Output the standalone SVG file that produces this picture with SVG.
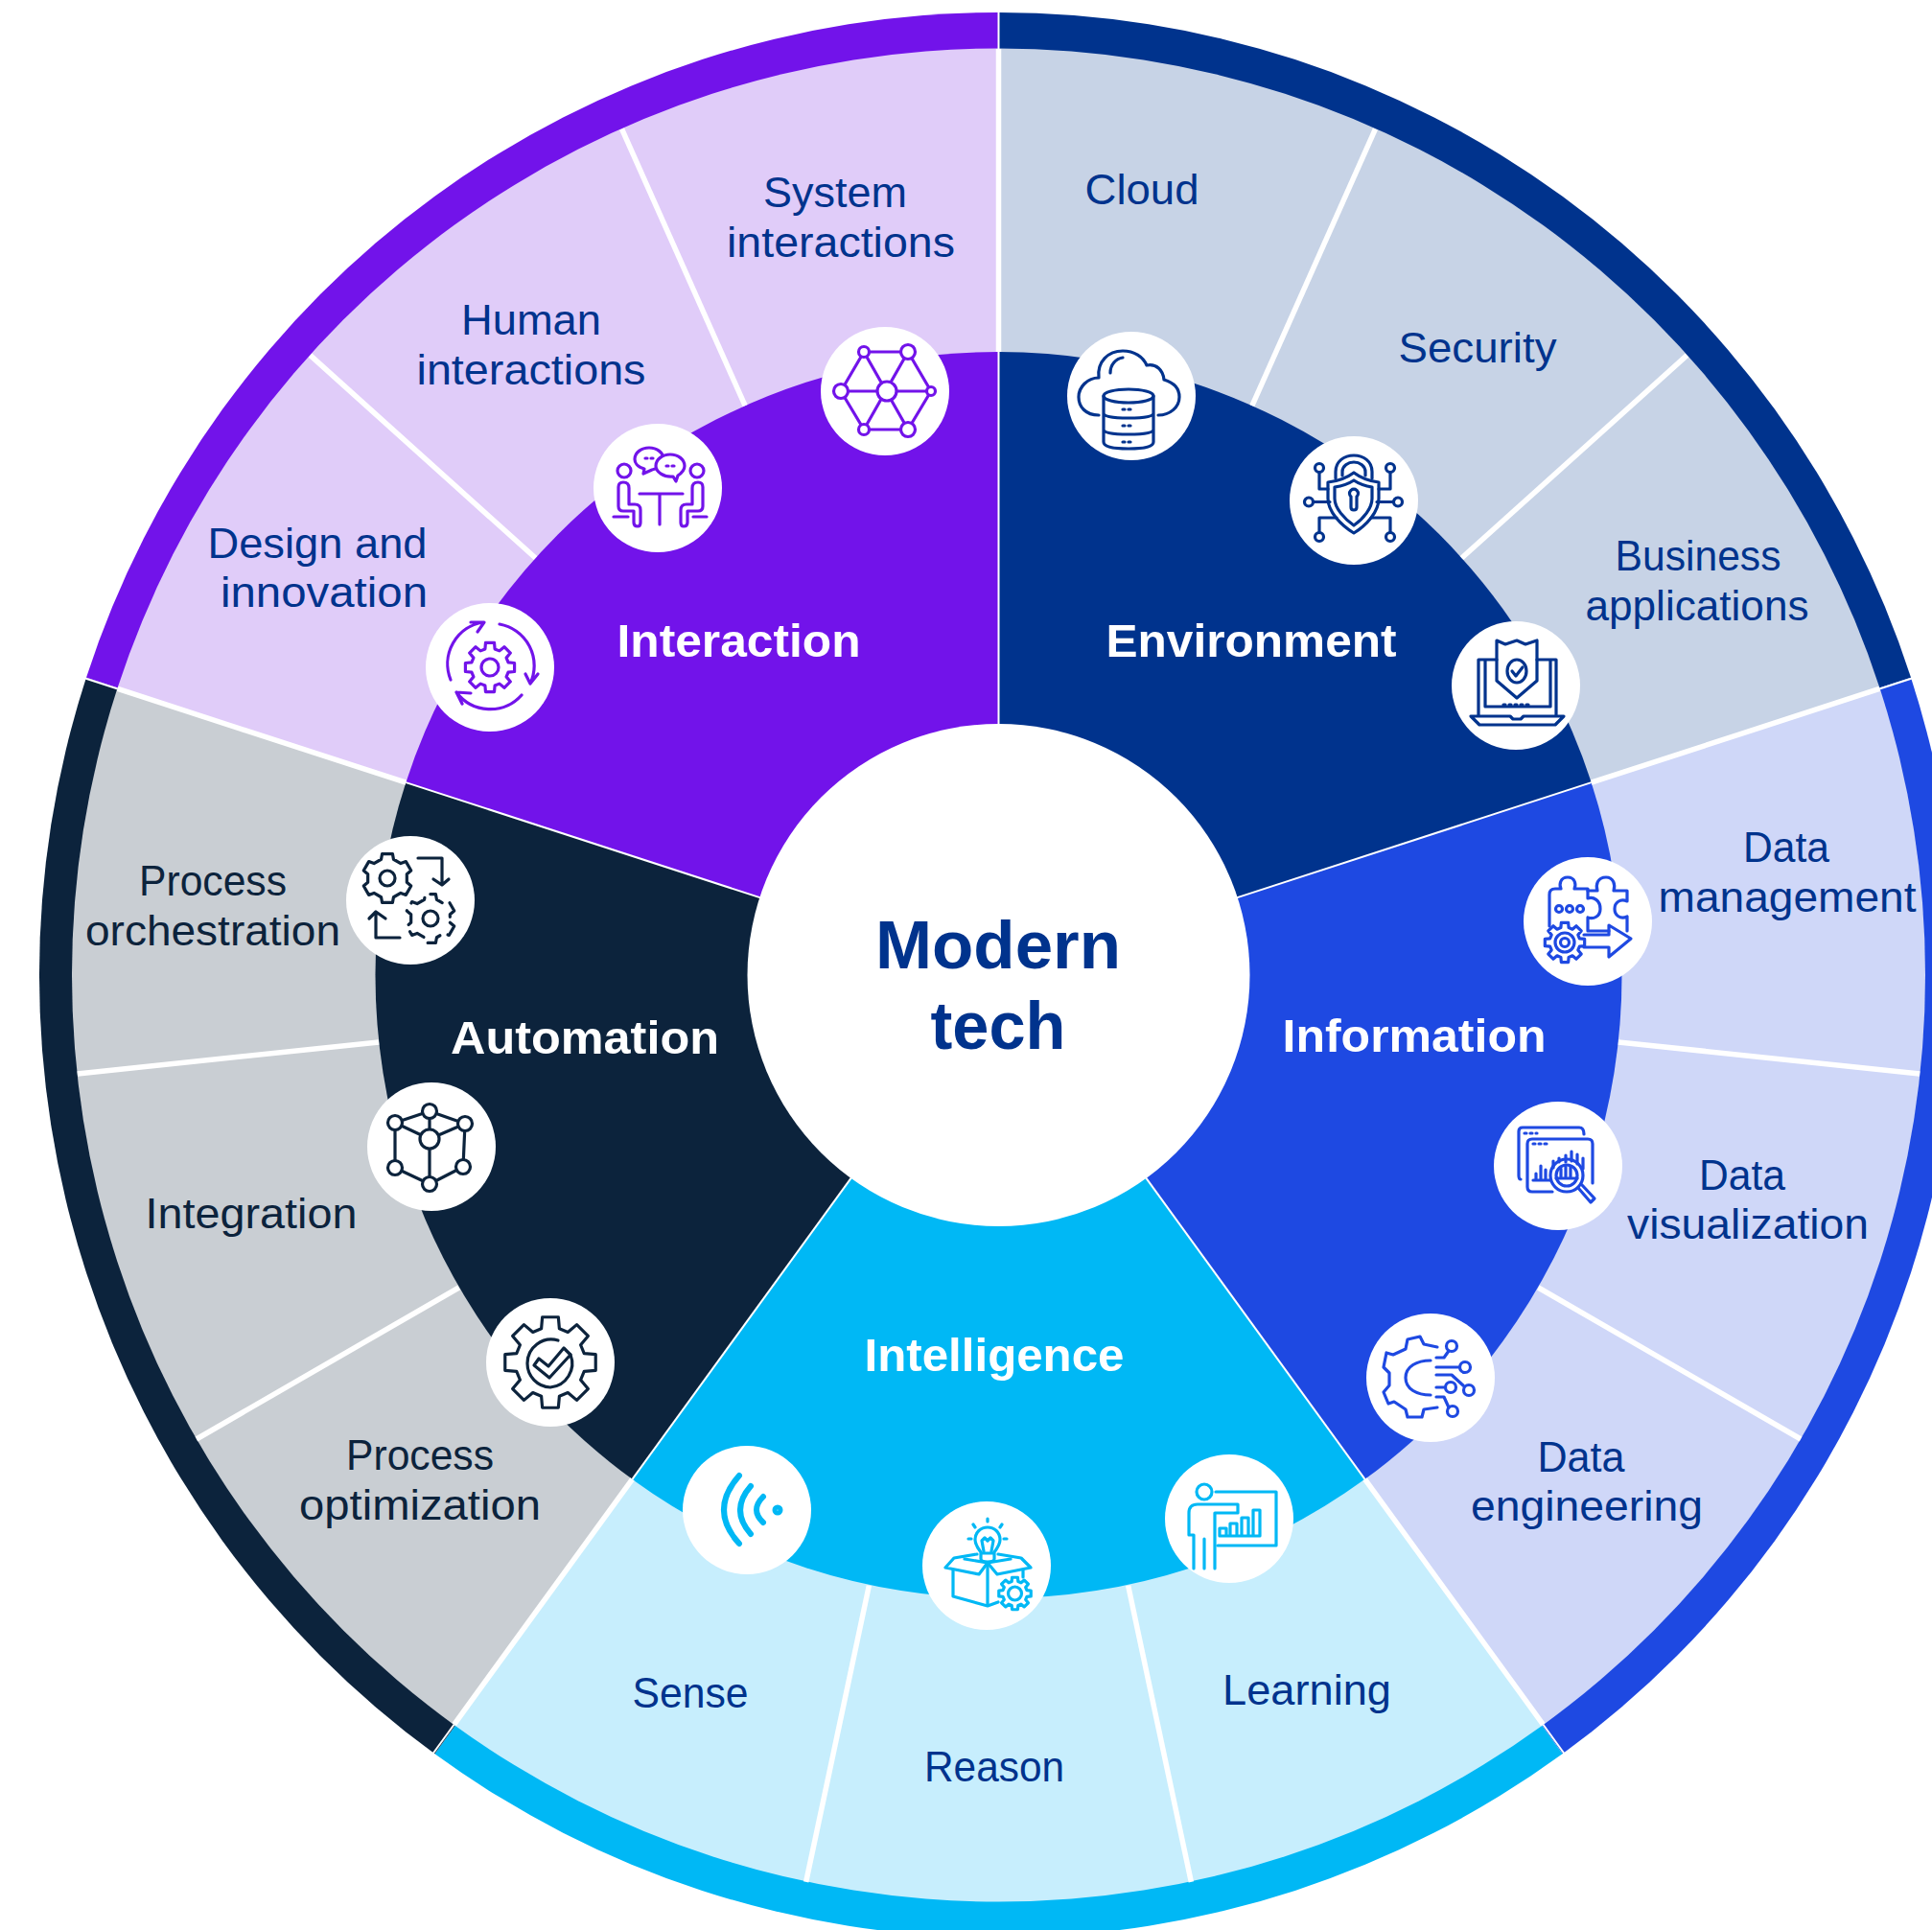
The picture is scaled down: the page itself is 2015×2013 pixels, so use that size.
<svg xmlns="http://www.w3.org/2000/svg" width="2015" height="2013" viewBox="0 0 2015 2013">
<style>
text{font-family:"Liberation Sans",Arial,sans-serif;text-anchor:middle}
.l{font-size:44px;fill:#00338D}
.d{fill:#0C233C}
.h{font-size:49px;font-weight:700;fill:#fff}
.c{font-size:70px;font-weight:700;fill:#00338D}
.disc{fill:#fff;stroke:none}
.ic{fill:none;stroke-width:3.2;stroke-linecap:round;stroke-linejoin:round}
.ns{vector-effect:non-scaling-stroke}
.w{stroke:#fff;fill:none}
</style>
<defs>
<path id="s1" d="M0 0L0 -1004A1004 1004 0 0 1 954.9 -310.3Z"/>
<path id="s2" d="M0 0L0 -966.5A966.5 966.5 0 0 1 919.2 -298.7Z"/>
<path id="s3" d="M0 0L0 -650A650 650 0 0 1 618.2 -200.9Z"/>
<g id="spoke">
<line x1="0" y1="-261" x2="0" y2="-650" stroke-width="2"/>
<line x1="0" y1="-650" x2="0" y2="-966" stroke-width="5.5"/>
<line x1="0" y1="-966" x2="0" y2="-1004" stroke-width="2"/>
</g>
<line id="div" x1="0" y1="-650" x2="0" y2="-966" stroke-width="5.5"/>
<path id="gear8" class="ns" d="M36.7 -9.8L49.2 -8.7L49.2 8.7L36.7 9.8L32.9 19L41 28.7L28.7 41L19 32.9L9.8 36.7L8.7 49.2L-8.7 49.2L-9.8 36.7L-19 32.9L-28.7 41L-41 28.7L-32.9 19L-36.7 9.8L-49.2 8.7L-49.2 -8.7L-36.7 -9.8L-32.9 -19L-41 -28.7L-28.7 -41L-19 -32.9L-9.8 -36.7L-8.7 -49.2L8.7 -49.2L9.8 -36.7L19 -32.9L28.7 -41L41 -28.7L32.9 -19Z"/>
<path id="gear6" class="ns" d="M39.1 8.3L47.6 15.5L37.2 33.5L26.8 29.7L12.4 38L10.4 48.9L-10.4 48.9L-12.4 38L-26.8 29.7L-37.2 33.5L-47.6 15.5L-39.1 8.3L-39.1 -8.3L-47.6 -15.5L-37.2 -33.5L-26.8 -29.7L-12.4 -38L-10.4 -48.9L10.4 -48.9L12.4 -38L26.8 -29.7L37.2 -33.5L47.6 -15.5L39.1 -8.3Z"/>
</defs>

<g id="sectors">
<g transform="translate(1041.5 1017) scale(.9965 1)">
<use href="#s1" fill="#00338D"/>
<use href="#s1" transform="rotate(72)" fill="#1E49E2"/>
<use href="#s1" transform="rotate(144)" fill="#00B8F5"/>
<use href="#s1" transform="rotate(216)" fill="#0C233C"/>
<use href="#s1" transform="rotate(288)" fill="#7213EA"/>
</g>
<g transform="translate(1041.5 1017)">
<use href="#s2" fill="#C7D3E6"/><use href="#s3" fill="#00338D"/>
<g transform="rotate(72)"><use href="#s2" fill="#CFD7F8"/><use href="#s3" fill="#1E49E2"/></g>
<g transform="rotate(144)"><use href="#s2" fill="#C7EEFD"/><use href="#s3" fill="#00B8F5"/></g>
<g transform="rotate(216)"><use href="#s2" fill="#C9CED3"/><use href="#s3" fill="#0C233C"/></g>
<g transform="rotate(288)"><use href="#s2" fill="#E0CCF9"/><use href="#s3" fill="#7213EA"/></g>
</g>
</g>

<g id="connectors" transform="translate(1041.5 1017)" class="w">
<use href="#spoke"/>
<use href="#spoke" transform="rotate(72)"/>
<use href="#spoke" transform="rotate(144)"/>
<use href="#spoke" transform="rotate(216)"/>
<use href="#spoke" transform="rotate(288)"/>
<use href="#div" transform="rotate(24)"/><use href="#div" transform="rotate(48)"/>
<use href="#div" transform="translate(0 2) rotate(96)"/><use href="#div" transform="translate(0 1) rotate(120)"/>
<use href="#div" transform="translate(0 1) rotate(168)"/><use href="#div" transform="translate(0 1) rotate(192)"/>
<use href="#div" transform="translate(0 1) rotate(240)"/><use href="#div" transform="translate(0 2) rotate(264)"/>
<use href="#div" transform="rotate(312)"/><use href="#div" transform="rotate(336)"/>
</g>

<g id="core">
<circle cx="1041.5" cy="1017" r="262" fill="#fff"/>
<text class="c" x="1041" y="1010" textLength="256" lengthAdjust="spacingAndGlyphs">Modern</text>
<text class="c" x="1041" y="1094" textLength="141" lengthAdjust="spacingAndGlyphs">tech</text>
</g>

<g id="environment"><text class="h" x="1305" y="685" textLength="303" lengthAdjust="spacingAndGlyphs">Environment</text></g>
<g id="information"><text class="h" x="1475" y="1097" textLength="275" lengthAdjust="spacingAndGlyphs">Information</text></g>
<g id="intelligence"><text class="h" x="1037" y="1430" textLength="271" lengthAdjust="spacingAndGlyphs">Intelligence</text></g>
<g id="automation"><text class="h" x="610" y="1099" textLength="280" lengthAdjust="spacingAndGlyphs">Automation</text></g>
<g id="interaction"><text class="h" x="770.500" y="685" textLength="254" lengthAdjust="spacingAndGlyphs">Interaction</text></g>

<!-- ENVIRONMENT -->
<g id="cloud">
<text class="l" x="1191" y="213" textLength="119" lengthAdjust="spacingAndGlyphs">Cloud</text>
<circle class="disc" cx="1180" cy="413" r="67"/>
<g class="ic" stroke="#00338D" transform="translate(1180 413)">
<path d="M-34 20C-48 20 -55 11 -55 1C-55 -9 -46 -19 -34 -19C-36 -36 -24 -47 -9 -47C3 -47 12 -41 16 -32C26 -34 33 -27 34 -17C44 -14 50 -8 50 1C50 12 40 20 28 20"/>
<path d="M-22 -24C-22 -33 -16 -39 -9 -40"/>
<ellipse cx="-3" cy="0" rx="26" ry="7"/>
<path d="M-29 0V48Q-29 55 -3 55Q23 55 23 48V0M-29 18Q-29 23 -3 23Q23 23 23 18M-29 35Q-29 40 -3 40Q23 40 23 35"/>
<path d="M-9 14H3M-9 31H3M-9 48H3" stroke-dasharray="2 4"/>
</g>
</g>
<g id="security">
<text class="l" x="1541" y="378" textLength="165" lengthAdjust="spacingAndGlyphs">Security</text>
<circle class="disc" cx="1412" cy="522" r="67"/>
<g class="ic" stroke="#00338D" transform="translate(1413 522)">
<path d="M-1 -29C-9 -23 -19 -20 -28 -19L-28 -2C-28 12 -14 26 -1 34C12 26 25 12 25 -2L25 -19C16 -20 7 -23 -1 -29Z"/>
<path d="M-1 -21C-7 -17 -14 -15 -21 -14L-21 -2C-21 8 -11 19 -1 26C9 19 18 8 18 -2L18 -14C11 -15 5 -17 -1 -21Z"/>
<path d="M-20 -23V-30C-20 -41 -11 -47 -1 -47C9 -47 18 -41 18 -30V-23M-13 -26V-30C-13 -36 -7 -40 -1 -40C5 -40 11 -36 11 -30V-26"/>
<path d="M-4 -4A4.500 4.500 0 1 1 2 -4L2 7Q2 10 -1 10Q-4 10 -4 7Z"/>
<circle cx="-37" cy="-34" r="4.500"/><circle cx="37" cy="-34" r="4.500"/><circle cx="-48" cy="1.500" r="4.500"/><circle cx="45" cy="1.500" r="4.500"/><circle cx="-37" cy="38" r="4.500"/><circle cx="37" cy="38" r="4.500"/>
<path d="M-37 -29V-12H-28M37 -29V-12H25M-43 1.500H-26M40 1.500H23M-37 33V18H-19M37 33V18H17"/>
</g>
</g>
<g id="business-applications">
<text class="l" x="1771" y="595" textLength="173" lengthAdjust="spacingAndGlyphs">Business</text>
<text class="l" x="1770" y="647" textLength="233" lengthAdjust="spacingAndGlyphs">applications</text>
<circle class="disc" cx="1581" cy="715" r="67"/>
<g class="ic" stroke="#00338D" transform="translate(1581 715)">
<path d="M-20 -27H-39V31M22 -27H42V31M-26 -27H-32V22H36V-27H28"/>
<path d="M-47 32H-6L-3 35H5L8 32H50L41 41H-38Z"/>
<path d="M-20 -47L-11 -43L1 -47L10 -43L22 -47V-5L1 13L-20 -5Z"/>
<ellipse cx="1" cy="-15" rx="10" ry="12"/>
<path d="M-4 -15L0 -10L7 -19"/>
<path d="M-13 20H17" stroke-dasharray="2 4"/>
</g>
</g>

<!-- INFORMATION -->
<g id="data-management">
<text class="l" x="1863" y="899" textLength="90" lengthAdjust="spacingAndGlyphs">Data</text>
<text class="l" x="1864" y="951" textLength="269" lengthAdjust="spacingAndGlyphs">management</text>
<circle class="disc" cx="1656" cy="961" r="67"/>
<g class="ic" stroke="#1E49E2" transform="translate(1656 961)">
<path d="M-40 5V-28Q-40 -34 -34 -34H-28C-30 -38 -29 -46 -21 -46C-13 -46 -12 -38 -14 -34H0V-24C6 -26 13 -22 13 -13C13 -5 6 -2 0 -4V10H22"/>
<path d="M0 -32H10C8 -38 10 -46 19 -46C27 -46 29 -38 27 -32H41V-21C34 -24 28 -20 28 -13C28 -6 34 -2 41 -5V10"/>
<path d="M-4 14H22V4L45 18L22 37V27H-4"/>
<circle cx="-30" cy="-13" r="3.500"/><circle cx="-19" cy="-13" r="3.500"/><circle cx="-8" cy="-13" r="3.500"/>
<use href="#gear8" transform="translate(-24 22) scale(.42)"/>
<circle cx="-24" cy="22" r="10"/><circle cx="-24" cy="22" r="4.500"/>
</g>
</g>
<g id="data-visualization">
<text class="l" x="1817" y="1241" textLength="90" lengthAdjust="spacingAndGlyphs">Data</text>
<text class="l" x="1823" y="1292" textLength="252" lengthAdjust="spacingAndGlyphs">visualization</text>
<circle class="disc" cx="1625" cy="1216" r="67"/>
<g class="ic" stroke="#1E49E2" transform="translate(1625 1216)">
<path d="M-39 14Q-41 14 -41 10V-36Q-41 -40 -37 -40H22Q27 -40 27 -33"/>
<path d="M-6 27H-27Q-32 27 -32 22V-23Q-32 -28 -27 -28H31Q36 -28 36 -23V18"/>
<path d="M-35 -34H-22M-26 -23H-12" stroke-dasharray="2 4"/>
<path d="M-26 15H-8M-23 14V8M-18 14V0M-13 14V4M-5 -5V2M1 -8V-4M8 -11V-4M14 -15V-5M20 -12V-2M26 -8V3"/>
<ellipse cx="9" cy="10" rx="17" ry="17"/><ellipse cx="9" cy="10" rx="11" ry="11"/>
<path d="M3 3V11M8 1V11M13 1V11M-2 13H20"/>
<path d="M21 23L34 38L38 34L25 20"/>
</g>
</g>
<g id="data-engineering">
<text class="l" x="1649" y="1535" textLength="91" lengthAdjust="spacingAndGlyphs">Data</text>
<text class="l" x="1655" y="1586" textLength="242" lengthAdjust="spacingAndGlyphs">engineering</text>
<circle class="disc" cx="1492" cy="1437" r="67"/>
<g class="ic" stroke="#1E49E2" transform="translate(1492 1437)">
<path d="M7 -32L-7 -35L-11 -43L-24 -40L-26 -30L-39 -24L-46 -26L-49 -11L-43 -5L-43 8L-49 15L-44 27L-38 25L-26 33L-24 41L-9 41L-7 33L7 31"/>
<path d="M0 -18C-14 -18 -26 -12 -26 0C-26 12 -14 18 0 18"/>
<circle cx="22" cy="-33" r="5.500"/><circle cx="36" cy="-11" r="5.500"/><circle cx="40" cy="13" r="5.500"/><circle cx="21" cy="10" r="5.500"/><circle cx="23" cy="35" r="5.500"/>
<path d="M6 -21H14L19 -28M6 -11H30M6 -3H22L34 8M6 10H15M6 20H14L19 31"/>
</g>
</g>

<!-- INTELLIGENCE -->
<g id="learning">
<text class="l" x="1363" y="1778" textLength="176" lengthAdjust="spacingAndGlyphs">Learning</text>
<circle class="disc" cx="1282" cy="1584" r="67"/>
<g class="ic" stroke="#00B8F5" transform="translate(1282 1584)">
<ellipse cx="-26" cy="-28" rx="8" ry="8"/>
<path d="M-14 -28H49V28H-12"/>
<path d="M-37 52V17H-42V-6Q-42 -15 -33 -15H9V-6H-15V52M-26 21V52"/>
<path d="M-10 18V10H-3V18M1 18V5H8V18M13 18V-1H20V18M25 18V-9H32V18M-10 18H32"/>
</g>
</g>
<g id="reason">
<text class="l" x="1037" y="1858" textLength="146" lengthAdjust="spacingAndGlyphs">Reason</text>
<circle class="disc" cx="1029" cy="1633" r="67"/>
<g class="ic" stroke="#00B8F5" transform="translate(1029 1633)">
<path d="M-6 -7V-14C-9 -18 -12 -22 -12 -27C-12 -35 -6 -40 1 -40C8 -40 14 -35 14 -27C14 -22 11 -18 8 -14V-7Q8 -4 1 -4Q-6 -4 -6 -7ZM-6 -13H8"/>
<path d="M-3 -15L-5 -26L-2 -29L1 -26L4 -29L7 -26L5 -15"/>
<path d="M1 -46V-49M-12 -40L-14 -43M14 -40L16 -43M-16 -28H-19M18 -28H21"/>
<path d="M-10 -12L-34 -8L-43 2L-8 9L1 -3L11 9L46 2L36 -8L12 -12"/>
<path d="M-23 -7L1 -3L25 -7"/>
<path d="M-35 5V32L1 42L12 38M1 -3V42M38 5V12"/>
<use href="#gear8" transform="translate(29.500 29) scale(.34)"/>
<circle cx="29.500" cy="29" r="7"/>
</g>
</g>
<g id="sense">
<text class="l" x="720" y="1781" textLength="121" lengthAdjust="spacingAndGlyphs">Sense</text>
<circle class="disc" cx="779" cy="1575" r="67"/>
<g class="ic" stroke="#00B8F5" transform="translate(779 1575)" style="stroke-width:6">
<path d="M-8 -36Q-40 0 -8 35"/><path d="M4 -25Q-18 0 4 25"/><path d="M17 -14Q3 0 17 13"/>
<circle cx="32" cy="0" r="2.500"/>
</g>
</g>

<!-- AUTOMATION -->
<g id="process-optimization">
<text class="l d" x="438" y="1533" textLength="154" lengthAdjust="spacingAndGlyphs">Process</text>
<text class="l d" x="438" y="1585" textLength="252" lengthAdjust="spacingAndGlyphs">optimization</text>
<circle class="disc" cx="574" cy="1421" r="67"/>
<g class="ic" stroke="#0C233C" transform="translate(574 1421)">
<use href="#gear8" transform="scale(.96)"/>
<path d="M21 -8A25 25 0 0 1 0 26A25 25 0 0 1 -24 1A25 25 0 0 1 8 -23"/>
<path d="M-17 3L-12 -4L-2 4L14 -15L21 -8L-1 16Z"/>
</g>
</g>
<g id="integration">
<text class="l d" x="262" y="1281" textLength="221" lengthAdjust="spacingAndGlyphs">Integration</text>
<circle class="disc" cx="450" cy="1196" r="67"/>
<g class="ic" stroke="#0C233C" transform="translate(450 1196)">
<path d="M-2 -37L-38 -25L-38 22L-2 39L33 21L35 -24L-2 -37ZM-38 -25L-2 -8L35 -24M-2 -37V39"/>
<g fill="#fff">
<circle cx="-2" cy="-37" r="7.500"/><circle cx="-38" cy="-25" r="7.500"/><circle cx="35" cy="-24" r="7.500"/><circle cx="-2" cy="-8" r="10"/><circle cx="-38" cy="22" r="7.500"/><circle cx="33" cy="21" r="7.500"/><circle cx="-2" cy="39" r="7.500"/>
</g>
</g>
</g>
<g id="process-orchestration">
<text class="l d" x="222" y="934" textLength="154" lengthAdjust="spacingAndGlyphs">Process</text>
<text class="l d" x="222" y="986" textLength="266" lengthAdjust="spacingAndGlyphs">orchestration</text>
<circle class="disc" cx="428" cy="939" r="67"/>
<g class="ic" stroke="#0C233C" transform="translate(428 939)">
<use href="#gear6" transform="translate(-24 -23) scale(.52)"/>
<circle cx="-24" cy="-23" r="8"/>
<use href="#gear6" transform="translate(21 19) scale(.52)" stroke-dasharray="18 9"/>
<circle cx="21" cy="19" r="8"/>
<path d="M8 -44H33V-16M24 -22L33 -16L40 -22"/>
<path d="M-11 39H-36V12M-43 19L-36 12L-26 19"/>
</g>
</g>

<!-- INTERACTION -->
<g id="design-and-innovation">
<text class="l" x="331" y="582" textLength="229" lengthAdjust="spacingAndGlyphs">Design and</text>
<text class="l" x="338" y="633" textLength="216" lengthAdjust="spacingAndGlyphs">innovation</text>
<circle class="disc" cx="511" cy="696" r="67"/>
<g class="ic" stroke="#7213EA" transform="translate(511 696)">
<use href="#gear8" transform="scale(.52)"/>
<circle cx="0" cy="0" r="9"/>
<path d="M-41 13A44 44 0 0 1 -7 -47M-20 -47H-6L-13 -37"/>
<path d="M10 -45A44 44 0 0 1 42 17M37 7L42 17L50 7"/>
<path d="M33 29A44 44 0 0 1 -35 26M-20 27L-35 26L-29 38"/>
</g>
</g>
<g id="human-interactions">
<text class="l" x="554" y="349" textLength="146" lengthAdjust="spacingAndGlyphs">Human</text>
<text class="l" x="554" y="401" textLength="239" lengthAdjust="spacingAndGlyphs">interactions</text>
<circle class="disc" cx="686" cy="509" r="67"/>
<g class="ic" stroke="#7213EA" transform="translate(686 509)">
<path d="M-15 -15L-14 -20C-22 -22 -24 -27 -24 -30C-24 -37 -17 -42 -9 -42C-1 -42 6 -37 6 -30C6 -24 0 -20 -6 -19Z"/>
<path d="M19 -7L16 -12C6 -11 -2 -17 -2 -23C-2 -30 5 -35 13 -35C21 -35 28 -30 28 -23C28 -18 24 -15 21 -13Z" fill="#fff"/>
<path d="M-13 -31H-11M-7 -31H-5M9 -23H11M15 -23H17"/>
<circle cx="-35" cy="-18" r="7"/><circle cx="41" cy="-18" r="7"/>
<path d="M-41 -1Q-41 -6 -36 -6Q-30 -6 -30 0V17H-24Q-18 17 -18 23V36Q-18 40 -21 40Q-25 40 -25 36V24H-36Q-41 24 -41 19Z"/>
<path d="M47 -1Q47 -6 42 -6Q36 -6 36 0V17H30Q24 17 24 23V36Q24 40 27 40Q31 40 31 36V24H42Q47 24 47 19Z"/>
<path d="M-19 6H26M2 6V38M-46 30H-31M37 30H51"/>
</g>
</g>
<g id="system-interactions">
<text class="l" x="871" y="216" textLength="150" lengthAdjust="spacingAndGlyphs">System</text>
<text class="l" x="877" y="268" textLength="238" lengthAdjust="spacingAndGlyphs">interactions</text>
<circle class="disc" cx="923" cy="408" r="67"/>
<g class="ic" stroke="#7213EA" transform="translate(923 408)">
<path d="M-22 -41H24L48 0L24 40H-22L-46 0ZM-22 -41L24 40M24 -41L-22 40M-46 0H48"/>
<g fill="#fff">
<circle cx="2" cy="0" r="10"/><circle cx="-22" cy="-41" r="5.500"/><circle cx="24" cy="-41" r="7.500"/><circle cx="-46" cy="0" r="7.500"/><circle cx="48" cy="0" r="4.500"/><circle cx="-22" cy="40" r="5.500"/><circle cx="24" cy="40" r="7.500"/>
</g>
</g>
</g>
</svg>
